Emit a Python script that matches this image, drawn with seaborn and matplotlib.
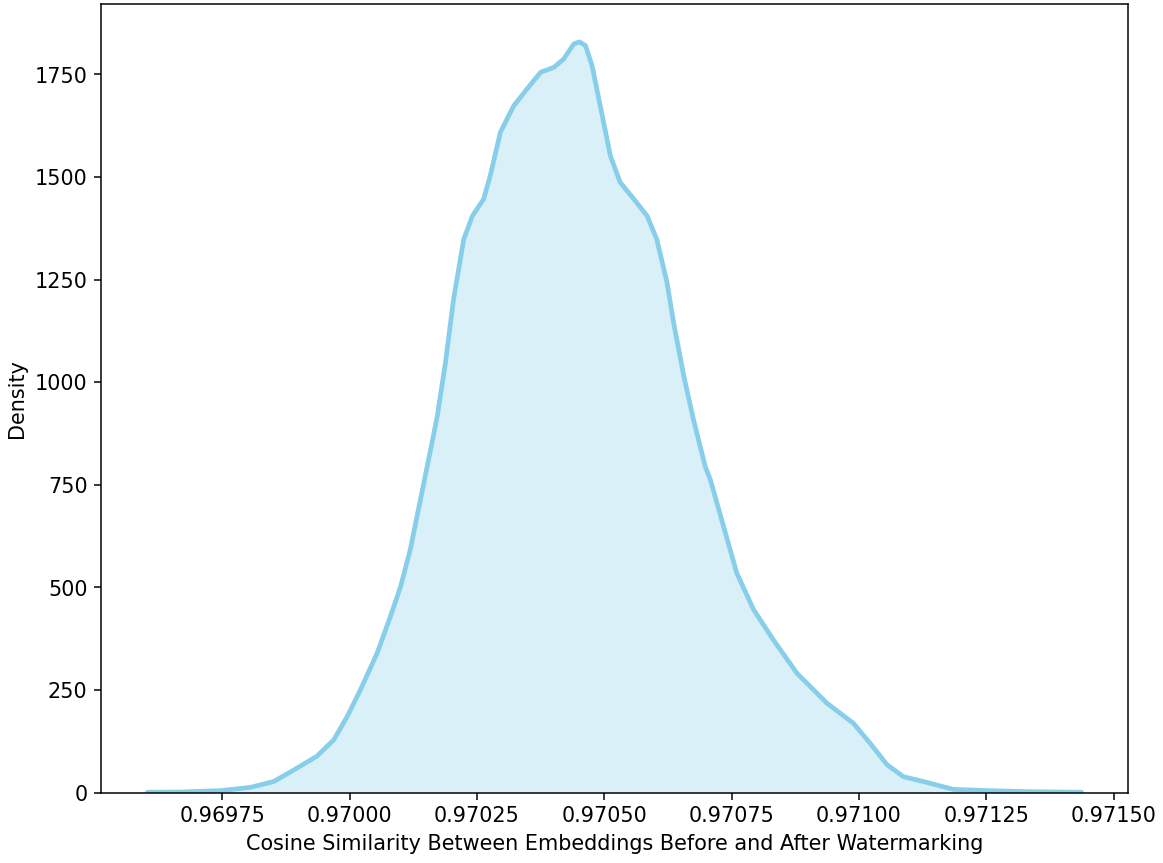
import matplotlib
matplotlib.use('Agg')
import matplotlib.pyplot as plt
import numpy as np
import pandas as pd
import seaborn as sns

matplotlib.rcParams['font.size'] = 11

# density curve (cosine similarity vs density)
cos_sim = [0.969603, 0.969668, 0.969747, 0.969806, 0.969851, 0.969890, 0.969936,
           0.969969, 0.969995, 0.970021, 0.970054, 0.970080, 0.970100, 0.970119,
           0.970139, 0.970159, 0.970172, 0.970188, 0.970204, 0.970224, 0.970241,
           0.970263, 0.970276, 0.970296, 0.970322, 0.970348, 0.970375, 0.970401,
           0.970420, 0.970440, 0.970451, 0.970463, 0.970476, 0.970492, 0.970512,
           0.970531, 0.970558, 0.970584, 0.970603, 0.970623, 0.970636, 0.970656,
           0.970675, 0.970698, 0.970708, 0.970734, 0.970760, 0.970793, 0.970832,
           0.970878, 0.970937, 0.970989, 0.971022, 0.971055, 0.971087, 0.971133,
           0.971185, 0.971251, 0.971329, 0.971437]
density = [1, 1.5, 4.9, 13, 27, 55, 89,
           129, 185, 250, 340, 429, 502, 592,
           714, 836, 917, 1047, 1202, 1348, 1405,
           1446, 1503, 1609, 1673, 1714, 1755, 1767,
           1787, 1824, 1829, 1820, 1771, 1673, 1551,
           1487, 1446, 1405, 1348, 1243, 1145, 1015,
           909, 795, 763, 649, 535, 446, 372,
           291, 218, 169, 120, 68, 39, 25,
           8, 5, 2.4, 1]

df = pd.DataFrame({'cos_sim': cos_sim, 'density': density})

dpi = 136
fig = plt.figure(figsize=(1163.3 / dpi, 863.3 / dpi), dpi=dpi)
ax = fig.add_axes([0.0866, 0.0815, 0.9699 - 0.0866, 0.9946 - 0.0815])

sns.lineplot(data=df, x='cos_sim', y='density', ax=ax, color='skyblue', linewidth=2.5,
             solid_joinstyle='round', solid_capstyle='round')
ax.fill_between(df['cos_sim'], df['density'], color='skyblue', alpha=0.3, linewidth=0)

ax.set_ylim(0, None)
ax.set_xlabel('Cosine Similarity Between Embeddings Before and After Watermarking')
ax.set_ylabel('Density')

plt.savefig('out.png', dpi=dpi)
